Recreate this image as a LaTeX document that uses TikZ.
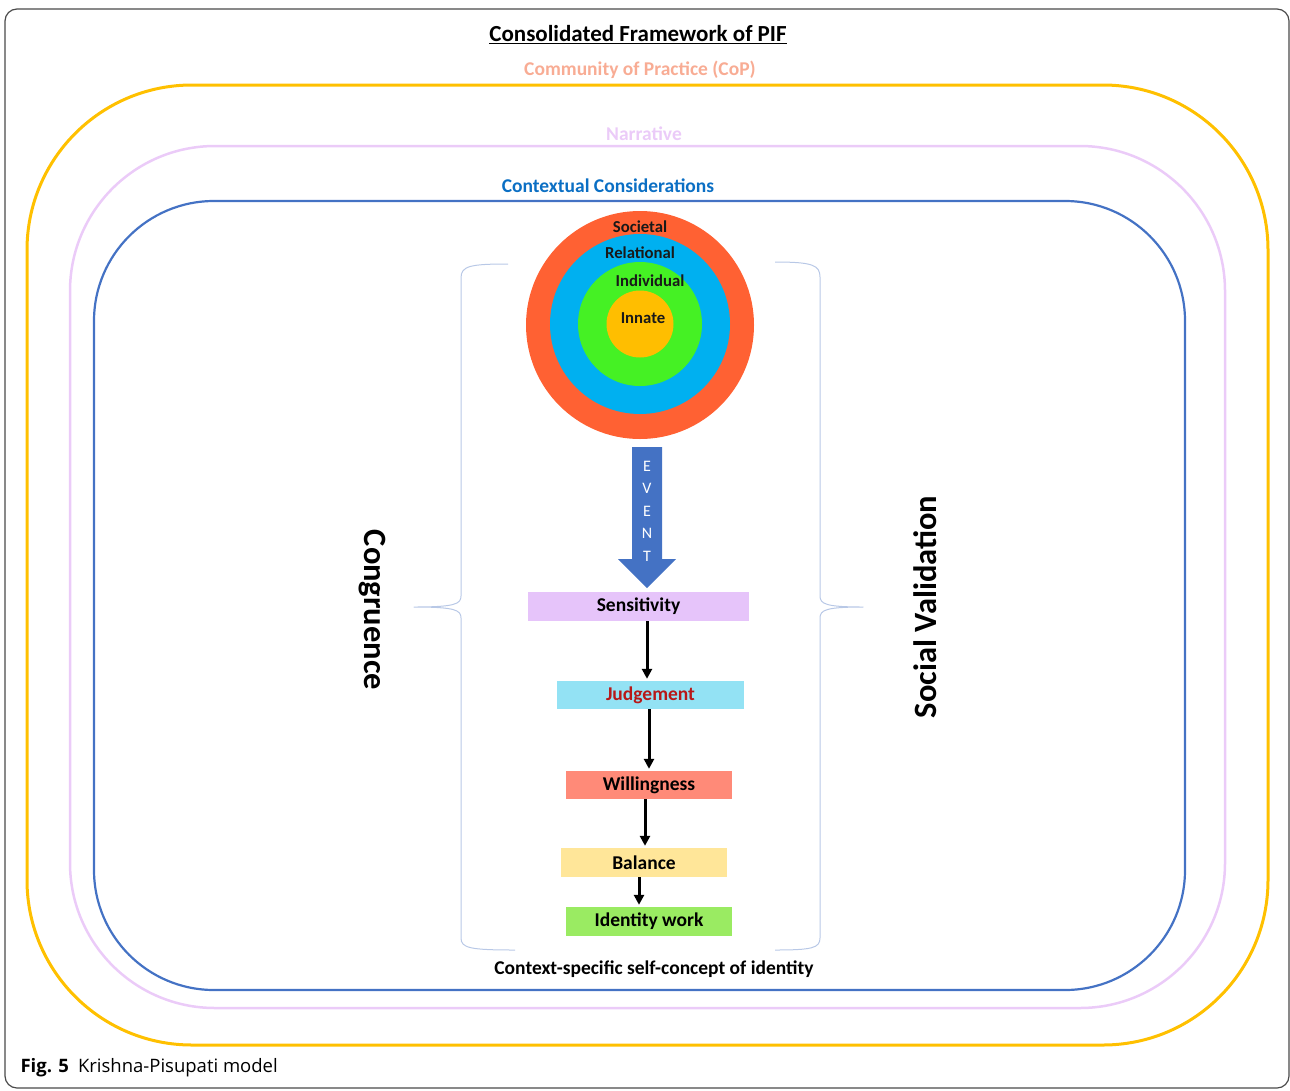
\documentclass[tikz,border=0pt]{standalone}
\usepackage{fontspec}
\setmainfont{Carlito}
\newfontfamily\capfont{Open Sans}
\usetikzlibrary{arrows.meta}

\definecolor{framegray}{HTML}{4A4A4A}
\definecolor{copgold}{HTML}{FFC000}
\definecolor{coptext}{HTML}{F8AC94}
\definecolor{narrpink}{HTML}{EBCBF8}
\definecolor{ctxblue}{HTML}{4472C4}
\definecolor{ctxtext}{HTML}{0B6FC4}
\definecolor{socred}{HTML}{FF6133}
\definecolor{relblue}{HTML}{00B0F0}
\definecolor{indgreen}{HTML}{45F124}
\definecolor{innorange}{HTML}{FFBE00}
\definecolor{bracegray}{HTML}{B8C8E6}
\definecolor{sensfill}{HTML}{E6C4FA}
\definecolor{judgfill}{HTML}{93E2F4}
\definecolor{judgtext}{HTML}{B81818}
\definecolor{willfill}{HTML}{FF8A78}
\definecolor{balfill}{HTML}{FFE699}
\definecolor{idwfill}{HTML}{9AEB62}

\tikzset{
  ring/.style={font=\fontsize{16.7}{18}\selectfont\bfseries, text=black!90},
  stepbox/.style={minimum height=29pt, inner sep=0pt,
    font=\fontsize{19.5}{22}\selectfont\bfseries},
  flow/.style={->, line width=3pt, shorten >=2pt},
  brace/.style={bracegray, line width=1pt},
  sidelabel/.style={font=\fontsize{32.5}{34}\selectfont\bfseries}
}

\begin{document}
\begin{tikzpicture}[x=1pt,y=-1pt, line join=round,
    >={Triangle[length=10pt,width=10pt]}]
  \useasboundingbox (0,0) rectangle (1290,1090);
  % frames
  \draw[framegray, line width=1.2pt, rounded corners=12pt] (5,9) rectangle (1289,1088);
  \draw[copgold, line width=3pt, rounded corners=165pt] (27,85) rectangle (1268,1045);
  \draw[narrpink, line width=2.5pt, rounded corners=145pt] (70,146) rectangle (1225,1008);
  \draw[ctxblue, line width=2.2pt, rounded corners=120pt] (94,201) rectangle (1185,990);

  % headings
  \node (title) at (638,35) {\fontsize{23}{26}\selectfont\bfseries\underline{Consolidated Framework of PIF}};
  \node[text=coptext] (cop) at (640,70) {\fontsize{19.5}{22}\selectfont\bfseries Community of Practice (CoP)};
  \node[text=narrpink] (narr) at (644,134) {\fontsize{19.5}{22}\selectfont\bfseries Narrative};
  \node[text=ctxtext] (ctx) at (608,186) {\fontsize{19.5}{22}\selectfont\bfseries Contextual Considerations};

  % levels
  \fill[socred] (640,325) circle (114pt);
  \fill[relblue] (640,324) circle (90pt);
  \fill[indgreen] (640,324) circle (62pt);
  \fill[innorange] (640,324) circle (33.5pt);
  \node[ring] (soc) at (640,227) {Societal};
  \node[ring] (rel) at (640,253) {Relational};
  \node[ring] (ind) at (650,281) {Individual};
  \node[ring] (inn) at (643,318) {Innate};

  % event
  \fill[ctxblue] (632,447) -- (662,447) -- (662,559) -- (676,559) -- (647,588)
    -- (618,559) -- (632,559) -- cycle;
  \node[text=white, align=center, font=\fontsize{16}{22.5}\selectfont] (event) at (647,511)
    {E\\V\\E\\N\\T};

  % steps
  \node[stepbox, fill=sensfill, minimum width=221pt] (sens) at (638.5,606.5) {Sensitivity};
  \node[stepbox, fill=judgfill, minimum width=187pt, minimum height=28pt, text=judgtext] (judg) at (650.5,695) {Judgement};
  \node[stepbox, fill=willfill, minimum width=166pt, minimum height=28pt] (will) at (649,785) {Willingness};
  \node[stepbox, fill=balfill, minimum width=166pt] (bal) at (644,862.5) {Balance};
  \node[stepbox, fill=idwfill, minimum width=166pt] (idw) at (649,921.5) {Identity work};

  \draw[flow] ([xshift=8.5pt]sens.south) -- ([xshift=-3.5pt]judg.north);
  \draw[flow] ([xshift=-1.5pt]judg.south) -- ([xshift=0pt]will.north);
  \draw[flow] ([xshift=-4pt]will.south) -- ([xshift=1pt]bal.north);
  \draw[flow] ([xshift=-5pt]bal.south) -- ([xshift=-10pt]idw.north);

  \node (self) at (654,969) {\fontsize{19.5}{22}\selectfont\bfseries Context-specific self-concept of identity};

  % braces
  \draw[brace] (508,264) .. controls (470,264) and (461,266) .. (461,278) -- (461,596)
    .. controls (461,604) and (455,607) .. (414,607)
    .. controls (455,607) and (461,610) .. (461,618) -- (461,938)
    .. controls (461,948) and (470,950) .. (515,950);
  \draw[brace] (775,262) .. controls (812,262) and (820,265) .. (820,277) -- (820,596)
    .. controls (820,604) and (826,607) .. (863,607)
    .. controls (826,607) and (820,610) .. (820,618) -- (820,938)
    .. controls (820,948) and (812,950) .. (775,950);
  \node[sidelabel, rotate=-90] (cong) at (372,610) {Congruence};
  \node[sidelabel, rotate=90] (soval) at (925,607) {Social Validation};

  % caption
  \node[anchor=west, font=\capfont\fontsize{18.5}{22}\selectfont] (cap) at (17,1068)
    {\textbf{Fig. 5}\hspace{9pt}Krishna-Pisupati model};
\end{tikzpicture}
\end{document}
